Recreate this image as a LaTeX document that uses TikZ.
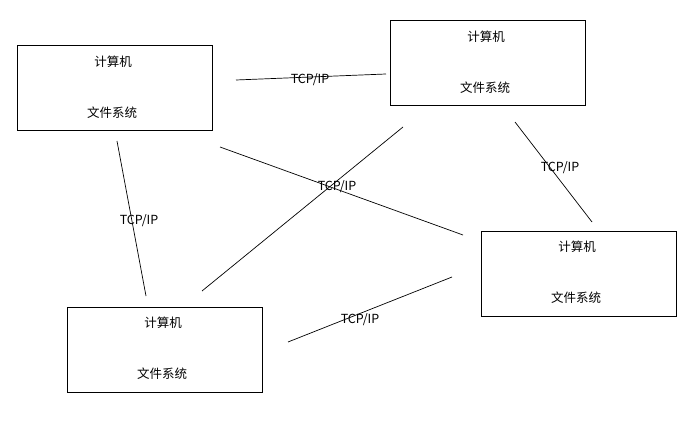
\documentclass[tikz,border=0pt]{standalone}
\usepackage{fontspec}
\setmainfont{Noto Sans CJK SC}
\begin{document}
\begin{tikzpicture}[x=1pt,y=-1pt,
 box/.style={draw,line width=0.8pt,minimum width=195pt,minimum height=85pt,anchor=north west},
 txt/.style={font=\fontsize{12.5pt}{14pt}\selectfont,inner sep=0pt},
 ln/.style={line width=0.7pt}]
\useasboundingbox (0,0) rectangle (687,422);
\node[box] (A) at (17,45) {};
\node[box] (B) at (390,20) {};
\node[box] (C) at (481,231) {};
\node[box] (D) at (67,307) {};
\foreach \n/\x/\y in {A/113/62,B/486/37,C/577/247,D/163/323}{
 \node[txt] (\n1) at (\x,\y) {计算机};
 \node[txt] (\n2) at (\x-1,\y+51) {文件系统};}
\coordinate (ab1) at (236,80); \coordinate (ab2) at (386,74);
\coordinate (bc1) at (515,122); \coordinate (bc2) at (592,222);
\coordinate (ad1) at (117,141); \coordinate (ad2) at (146,296);
\coordinate (ac1) at (220,147); \coordinate (ac2) at (463,235);
\coordinate (bd1) at (403,127); \coordinate (bd2) at (202,291);
\coordinate (dc1) at (288,342); \coordinate (dc2) at (452,277);
\foreach \p in {ab,bc,ad,ac,bd,dc}{\draw[ln] (\p1) -- (\p2);}
\node[txt] (l1) at (310,80) {TCP/IP};
\node[txt] (l2) at (560,168) {TCP/IP};
\node[txt] (l3) at (139,221) {TCP/IP};
\node[txt] (l4) at (337,187) {TCP/IP};
\node[txt] (l5) at (360,320) {TCP/IP};
\end{tikzpicture}
\end{document}
